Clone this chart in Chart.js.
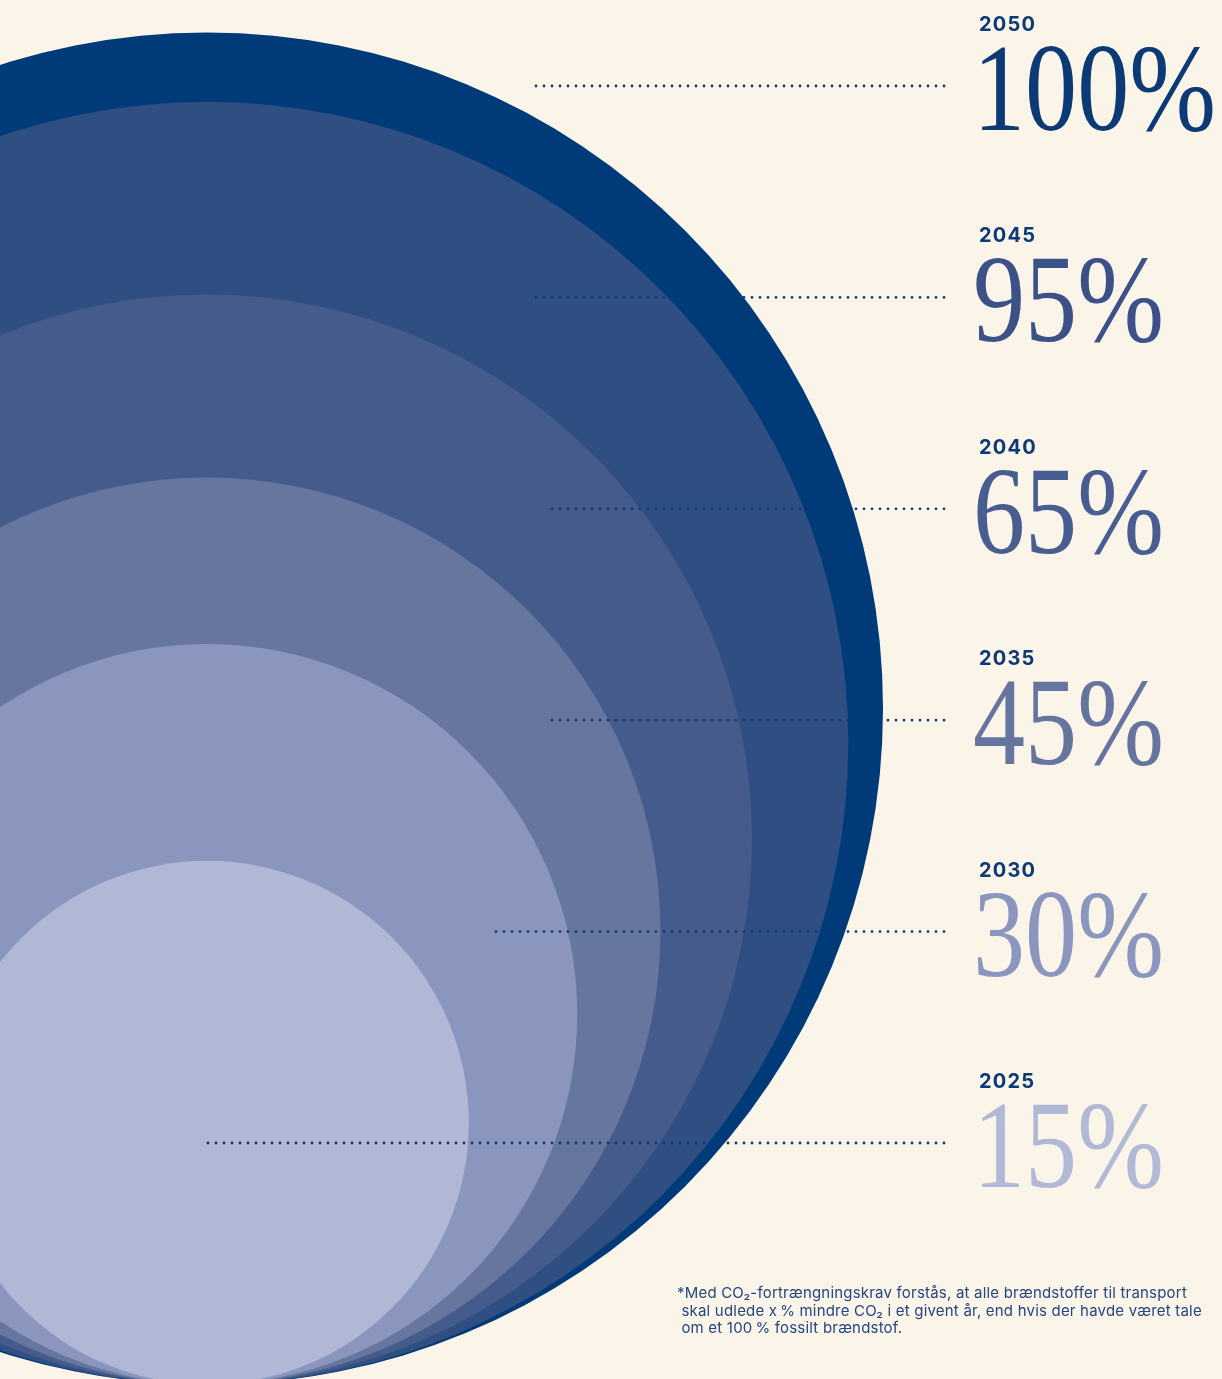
<!DOCTYPE html>
<html>
<head>
<meta charset="utf-8">
<script src="https://cdn.jsdelivr.net/npm/chart.js@4.4.1/dist/chart.umd.min.js"></script>
<style>
    html, body { margin: 0; padding: 0; background: #faf4e9; }
    #wrapper { width: 1222px; height: 1379px; position: relative; }
</style>
</head>
<body>
<div id="wrapper"><canvas id="circles" width="1222" height="1379"></canvas></div>
<script>
// år og CO2-fortrængningskrav
const years = ['2050', '2045', '2040', '2035', '2030', '2025'];
const shares = [100, 95, 65, 45, 30, 15];
// cirklernes areal (95%-cirklen er tegnet lidt mindre)
const circleSize = [100, 90, 65, 45, 30, 15];
const circleColors = ['#003a78', '#2f4e82', '#455b8b', '#66769f', '#8a96be', '#b1b8d5'];
const textColors = ['#0b3a75', '#3b5188', '#485d90', '#66759f', '#8b96bf', '#b2b9d6'];
const footnote = [
    '*Med CO\u2082-fortrængningskrav forstås, at alle brændstoffer til transport',
    ' skal udlede x\u2009% mindre CO\u2082 i et givent år, end hvis der havde været tale',
    ' om et 100\u2009% fossilt brændstof.'
];

//-------------------------------------------------------- layout
const navy = '#0b3a75';
const rowTop = 31;        // første års-baseline
const rowStep = 211.4;    // afstand mellem rækker
const leaderStart = [532, 532, 544, 544, 495, 207];
const leaderEnd = 944;
const textX = 977;

function unitPx(chart) {
    let y = chart.scales.y;
    return y.getPixelForValue(0) - y.getPixelForValue(1);
}

const background = {
    id: 'background',
    beforeDraw(chart) {
        let c = chart.ctx;
        c.save();
        c.fillStyle = '#faf4e9';
        c.fillRect(0, 0, chart.width, chart.height);
        c.restore();
    }
};

const labels = {
    id: 'labels',
    afterDraw(chart) {
        let c = chart.ctx;
        c.save();
        years.forEach((yr, i) => {
            let base = rowTop + i * rowStep;
            // prikket linje (tegnes fra højre, så sidste prik sidder ved teksten)
            c.strokeStyle = navy;
            c.lineWidth = 2.8;
            c.lineCap = 'round';
            c.setLineDash([0, 8]);
            c.beginPath();
            c.moveTo(leaderEnd, base + 55);
            c.lineTo(leaderStart[i], base + 55);
            c.stroke();
            c.setLineDash([]);

            // år
            c.fillStyle = navy;
            c.font = '700 20px Inter, "Liberation Sans", sans-serif';
            c.letterSpacing = '1.2px';
            c.textBaseline = 'alphabetic';
            c.textAlign = 'left';
            c.fillText(yr, 979, base);
            c.letterSpacing = '0px';

            // procent
            c.save();
            c.translate(textX - 4, base + 99);
            c.scale(0.84, 1);
            c.fillStyle = textColors[i];
            c.font = '124px "Liberation Serif", "DejaVu Serif", serif';
            c.fillText(shares[i] + '%', 0, 0);
            c.restore();
        });

        // fodnote
        c.fillStyle = '#24467f';
        c.font = '15px Inter, "Noto Sans", sans-serif';
        c.letterSpacing = '0.2px';
        footnote.forEach((line, i) => {
            c.fillText(line, 677, 1298 + i * 17.5);
        });
        c.restore();
    }
};

new Chart(document.getElementById('circles'), {
    type: 'scatter',
    data: {
        labels: years,
        datasets: [{
            label: 'CO2-fortrængningskrav',
            // alle cirkler rører hinanden i bunden: centrum = radius over 0
            data: circleSize.map(s => ({ x: 0, y: Math.sqrt(s) })),
            showLine: false,
            pointBackgroundColor: circleColors,
            pointBorderWidth: 0,
            pointHoverBorderWidth: 0,
            pointRadius: (ctx) => Math.sqrt(circleSize[ctx.dataIndex]) * unitPx(ctx.chart),
            clip: 0
        }]
    },
    options: {
        responsive: false,
        animation: false,
        events: [],
        layout: { padding: 0 },
        plugins: {
            legend: { display: false },
            tooltip: { enabled: false },
            title: { display: false }
        },
        scales: {
            x: { type: 'linear', display: false, min: -3.062, max: 15.015 },
            y: { type: 'linear', display: false, min: 0.0814, max: 20.48 }
        }
    },
    plugins: [background, labels]
});
</script>
</body>
</html>
